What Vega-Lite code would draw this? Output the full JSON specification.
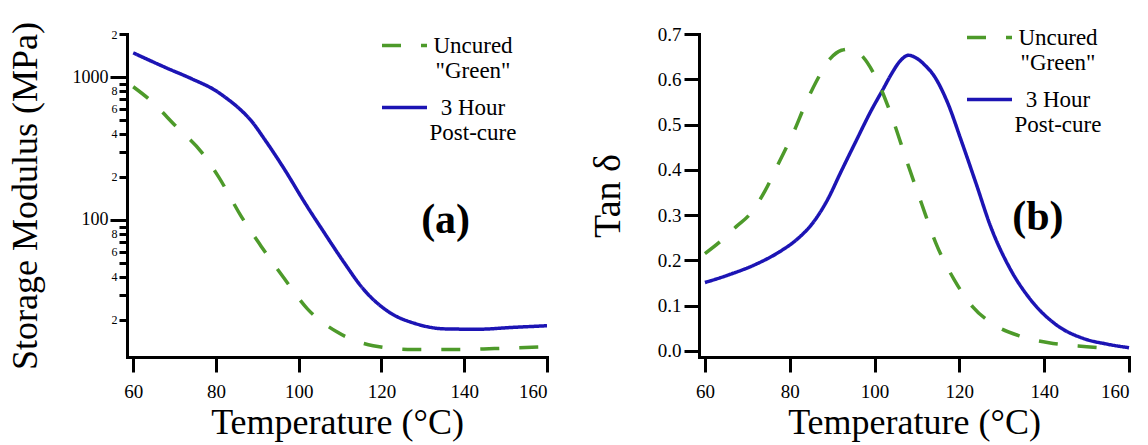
{
  "$schema": "https://vega.github.io/schema/vega-lite/v6.json",
  "background": "white",
  "padding": {"left": 6, "top": 13, "right": 5, "bottom": 5},
  "config": {
    "view": {"stroke": null},
    "font": "Liberation Serif",
    "axis": {
      "grid": false,
      "domainColor": "black",
      "domainWidth": 3,
      "domainCap": "square",
      "tickColor": "black",
      "tickWidth": 3,
      "labelColor": "black",
      "titleColor": "black",
      "labelFont": "Liberation Serif",
      "titleFont": "Liberation Serif",
      "titleFontWeight": "normal"
    },
    "legend": {
      "orient": "none",
      "title": null,
      "symbolType": "stroke",
      "symbolSize": 2025,
      "symbolStrokeWidth": 3.5,
      "labelFont": "Liberation Serif",
      "labelFontSize": 23,
      "labelColor": "black",
      "labelAlign": "center",
      "labelBaseline": "middle",
      "labelOffset": 44,
      "labelLimit": 400,
      "rowPadding": -8,
      "padding": 0
    }
  },
  "datasets": {
    "modulus": [
      {"T": 60, "E": 1476, "series": "3 Hour Post-cure"},
      {"T": 68, "E": 1159, "series": "3 Hour Post-cure"},
      {"T": 74.2, "E": 970, "series": "3 Hour Post-cure"},
      {"T": 80, "E": 801, "series": "3 Hour Post-cure"},
      {"T": 82.7, "E": 705, "series": "3 Hour Post-cure"},
      {"T": 85.4, "E": 610, "series": "3 Hour Post-cure"},
      {"T": 88.5, "E": 495, "series": "3 Hour Post-cure"},
      {"T": 91.8, "E": 365, "series": "3 Hour Post-cure"},
      {"T": 96.6, "E": 225, "series": "3 Hour Post-cure"},
      {"T": 101.4, "E": 133, "series": "3 Hour Post-cure"},
      {"T": 106.1, "E": 82, "series": "3 Hour Post-cure"},
      {"T": 110.9, "E": 50.7, "series": "3 Hour Post-cure"},
      {"T": 115.6, "E": 32.9, "series": "3 Hour Post-cure"},
      {"T": 121.8, "E": 22.7, "series": "3 Hour Post-cure"},
      {"T": 128.3, "E": 18.8, "series": "3 Hour Post-cure"},
      {"T": 135.4, "E": 17.3, "series": "3 Hour Post-cure"},
      {"T": 143.3, "E": 17.2, "series": "3 Hour Post-cure"},
      {"T": 151.4, "E": 17.7, "series": "3 Hour Post-cure"},
      {"T": 160, "E": 18.2, "series": "3 Hour Post-cure"},
      {"T": 60, "E": 855, "series": "Uncured \"Green\""},
      {"T": 64, "E": 693, "series": "Uncured \"Green\""},
      {"T": 70.4, "E": 450, "series": "Uncured \"Green\""},
      {"T": 76.6, "E": 296, "series": "Uncured \"Green\""},
      {"T": 80.6, "E": 201, "series": "Uncured \"Green\""},
      {"T": 86.1, "E": 106, "series": "Uncured \"Green\""},
      {"T": 90.9, "E": 65.6, "series": "Uncured \"Green\""},
      {"T": 96.6, "E": 38.6, "series": "Uncured \"Green\""},
      {"T": 102.1, "E": 23.9, "series": "Uncured \"Green\""},
      {"T": 109.2, "E": 16.5, "series": "Uncured \"Green\""},
      {"T": 118, "E": 13.2, "series": "Uncured \"Green\""},
      {"T": 127.5, "E": 12.4, "series": "Uncured \"Green\""},
      {"T": 137.8, "E": 12.4, "series": "Uncured \"Green\""},
      {"T": 147.3, "E": 12.6, "series": "Uncured \"Green\""},
      {"T": 160, "E": 13.0, "series": "Uncured \"Green\""}
    ],
    "tan": [
      {"T": 60, "tan": 0.151, "series": "3 Hour Post-cure"},
      {"T": 65.6, "tan": 0.168, "series": "3 Hour Post-cure"},
      {"T": 72.4, "tan": 0.193, "series": "3 Hour Post-cure"},
      {"T": 77.6, "tan": 0.219, "series": "3 Hour Post-cure"},
      {"T": 81.9, "tan": 0.248, "series": "3 Hour Post-cure"},
      {"T": 85.3, "tan": 0.281, "series": "3 Hour Post-cure"},
      {"T": 88.8, "tan": 0.332, "series": "3 Hour Post-cure"},
      {"T": 92.2, "tan": 0.398, "series": "3 Hour Post-cure"},
      {"T": 95.6, "tan": 0.463, "series": "3 Hour Post-cure"},
      {"T": 99.1, "tan": 0.529, "series": "3 Hour Post-cure"},
      {"T": 102, "tan": 0.578, "series": "3 Hour Post-cure"},
      {"T": 104, "tan": 0.612, "series": "3 Hour Post-cure"},
      {"T": 106, "tan": 0.640, "series": "3 Hour Post-cure"},
      {"T": 108, "tan": 0.653, "series": "3 Hour Post-cure"},
      {"T": 110, "tan": 0.646, "series": "3 Hour Post-cure"},
      {"T": 112, "tan": 0.630, "series": "3 Hour Post-cure"},
      {"T": 114, "tan": 0.608, "series": "3 Hour Post-cure"},
      {"T": 117.1, "tan": 0.551, "series": "3 Hour Post-cure"},
      {"T": 120.5, "tan": 0.463, "series": "3 Hour Post-cure"},
      {"T": 124, "tan": 0.368, "series": "3 Hour Post-cure"},
      {"T": 127.4, "tan": 0.274, "series": "3 Hour Post-cure"},
      {"T": 131.7, "tan": 0.186, "series": "3 Hour Post-cure"},
      {"T": 136.8, "tan": 0.113, "series": "3 Hour Post-cure"},
      {"T": 142.8, "tan": 0.058, "series": "3 Hour Post-cure"},
      {"T": 149.7, "tan": 0.026, "series": "3 Hour Post-cure"},
      {"T": 154.8, "tan": 0.015, "series": "3 Hour Post-cure"},
      {"T": 160, "tan": 0.007, "series": "3 Hour Post-cure"},
      {"T": 60, "tan": 0.215, "series": "Uncured \"Green\""},
      {"T": 63.9, "tan": 0.244, "series": "Uncured \"Green\""},
      {"T": 67.3, "tan": 0.274, "series": "Uncured \"Green\""},
      {"T": 70.7, "tan": 0.303, "series": "Uncured \"Green\""},
      {"T": 74.2, "tan": 0.354, "series": "Uncured \"Green\""},
      {"T": 77.6, "tan": 0.419, "series": "Uncured \"Green\""},
      {"T": 81, "tan": 0.485, "series": "Uncured \"Green\""},
      {"T": 83.6, "tan": 0.543, "series": "Uncured \"Green\""},
      {"T": 86.2, "tan": 0.594, "series": "Uncured \"Green\""},
      {"T": 89.6, "tan": 0.646, "series": "Uncured \"Green\""},
      {"T": 92.2, "tan": 0.664, "series": "Uncured \"Green\""},
      {"T": 94.3, "tan": 0.667, "series": "Uncured \"Green\""},
      {"T": 97.3, "tan": 0.649, "series": "Uncured \"Green\""},
      {"T": 100.8, "tan": 0.594, "series": "Uncured \"Green\""},
      {"T": 104.2, "tan": 0.514, "series": "Uncured \"Green\""},
      {"T": 107.6, "tan": 0.419, "series": "Uncured \"Green\""},
      {"T": 111.1, "tan": 0.325, "series": "Uncured \"Green\""},
      {"T": 114.5, "tan": 0.237, "series": "Uncured \"Green\""},
      {"T": 118.8, "tan": 0.157, "series": "Uncured \"Green\""},
      {"T": 123.1, "tan": 0.098, "series": "Uncured \"Green\""},
      {"T": 128.2, "tan": 0.058, "series": "Uncured \"Green\""},
      {"T": 134.2, "tan": 0.033, "series": "Uncured \"Green\""},
      {"T": 141.1, "tan": 0.018, "series": "Uncured \"Green\""},
      {"T": 148, "tan": 0.011, "series": "Uncured \"Green\""},
      {"T": 156.6, "tan": 0.005, "series": "Uncured \"Green\""}
    ]
  },
  "spacing": 35,
  "resolve": {
    "scale": {"color": "independent", "strokeDash": "independent"},
    "legend": {"color": "independent", "strokeDash": "independent"}
  },
  "hconcat": [
    {
      "width": 420,
      "height": 323,
      "layer": [
        {
          "data": {"name": "modulus"},
          "mark": {"type": "line", "strokeWidth": 3.5, "interpolate": "monotone"},
          "encoding": {
            "x": {
              "field": "T", "type": "quantitative",
              "scale": {"domain": [58.5, 160], "nice": false, "zero": false},
              "axis": {"values": [60, 80, 100, 120, 140, 160], "tickSize": 15, "labelFont": "Liberation Serif", "labelFontSize": 19, "labelPadding": 10, "title": "Temperature (°C)", "titleFontSize": 36, "titlePadding": 4}
            },
            "y": {
              "field": "E", "type": "quantitative",
              "scale": {"type": "log", "domain": [11, 2000], "nice": false},
              "axis": {
                "values": [20, 30, 40, 50, 60, 70, 80, 90, 100, 200, 300, 400, 500, 600, 700, 800, 900, 1000, 2000],
                "labelExpr": "datum.value == 1000 ? '1000' : datum.value == 100 ? '100' : indexof([20,40,60,80,200,400,600,800,2000], datum.value) >= 0 ? substring(toString(datum.value), 0, 1) : ''",
                "tickSize": {"condition": {"test": "datum.value == 100 || datum.value == 1000", "value": 17}, "value": 8},
                "labelFont": "Liberation Serif",
                "labelFontSize": {"condition": {"test": "datum.value == 100 || datum.value == 1000", "value": 18}, "value": 12},
                "labelPadding": 2,
                "title": "Storage Modulus (MPa)",
                "titleFontSize": 36,
                "titlePadding": 28
              }
            },
            "color": {
              "field": "series", "type": "nominal",
              "scale": {"domain": ["Uncured \"Green\"", "3 Hour Post-cure"], "range": ["#4d9a2a", "#1c14b4"]},
              "legend": {"legendX": 253, "legendY": -13, "labelExpr": "datum.label == '3 Hour Post-cure' ? ['3 Hour', 'Post-cure'] : ['Uncured', '\"Green\"']"}
            },
            "strokeDash": {
              "field": "series", "type": "nominal",
              "scale": {"domain": ["Uncured \"Green\"", "3 Hour Post-cure"], "range": [[19, 20], [1, 0]]},
              "legend": {"legendX": 253, "legendY": -13, "labelExpr": "datum.label == '3 Hour Post-cure' ? ['3 Hour', 'Post-cure'] : ['Uncured', '\"Green\"']"}
            }
          }
        },
        {
          "data": {"values": [{"label": "(a)"}]},
          "mark": {"type": "text", "fontSize": 42, "fontWeight": "bold", "font": "Liberation Serif", "color": "black", "baseline": "middle"},
          "encoding": {
            "x": {"datum": 135.5},
            "y": {"datum": 100},
            "text": {"field": "label", "type": "nominal"}
          }
        }
      ]
    },
    {
      "width": 430,
      "height": 323,
      "layer": [
        {
          "data": {"name": "tan"},
          "mark": {"type": "line", "strokeWidth": 3.5, "interpolate": "monotone"},
          "encoding": {
            "x": {
              "field": "T", "type": "quantitative",
              "scale": {"domain": [58.6, 160], "nice": false, "zero": false},
              "axis": {"values": [60, 80, 100, 120, 140, 160], "tickSize": 15, "labelFont": "Liberation Serif", "labelFontSize": 19, "labelPadding": 10, "title": "Temperature (°C)", "titleFontSize": 36, "titlePadding": 4}
            },
            "y": {
              "field": "tan", "type": "quantitative",
              "scale": {"domain": [-0.0135, 0.7], "nice": false, "zero": false},
              "axis": {"values": [0, 0.1, 0.2, 0.3, 0.4, 0.5, 0.6, 0.7], "format": ".1f", "tickSize": 15, "labelFont": "Liberation Serif", "labelFontSize": 19, "labelPadding": 3, "title": "Tan δ", "titleFontSize": 38, "titlePadding": 30}
            },
            "color": {
              "field": "series", "type": "nominal",
              "scale": {"domain": ["Uncured \"Green\"", "3 Hour Post-cure"], "range": ["#4d9a2a", "#1c14b4"]},
              "legend": {"legendX": 266, "legendY": -21, "rowPadding": -14, "labelExpr": "datum.label == '3 Hour Post-cure' ? ['3 Hour', 'Post-cure'] : ['Uncured', '\"Green\"']"}
            },
            "strokeDash": {
              "field": "series", "type": "nominal",
              "scale": {"domain": ["Uncured \"Green\"", "3 Hour Post-cure"], "range": [[19, 20], [1, 0]]},
              "legend": {"legendX": 266, "legendY": -21, "rowPadding": -14, "labelExpr": "datum.label == '3 Hour Post-cure' ? ['3 Hour', 'Post-cure'] : ['Uncured', '\"Green\"']"}
            }
          }
        },
        {
          "data": {"values": [{"label": "(b)"}]},
          "mark": {"type": "text", "fontSize": 42, "fontWeight": "bold", "font": "Liberation Serif", "color": "black", "baseline": "middle"},
          "encoding": {
            "x": {"datum": 138.5},
            "y": {"datum": 0.295},
            "text": {"field": "label", "type": "nominal"}
          }
        }
      ]
    }
  ]
}
